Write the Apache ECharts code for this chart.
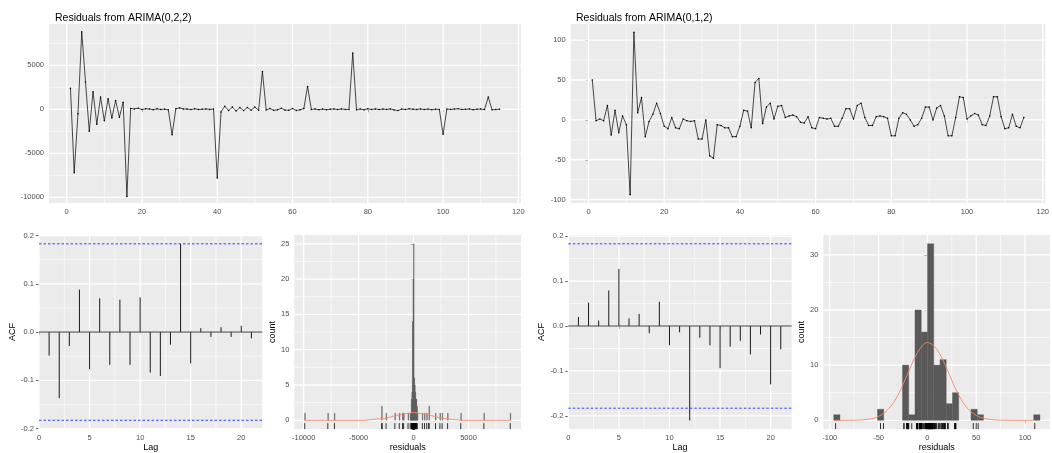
<!DOCTYPE html>
<html><head><meta charset="utf-8">
<script src="https://cdn.jsdelivr.net/npm/echarts@6/dist/echarts.min.js"></script>
<style>html,body{margin:0;padding:0;background:#fff}#c{width:1052px;height:453px}</style>
</head><body><div id="c"></div>
<script>
// ---------- data ----------
const titles = ['Residuals from ARIMA(0,2,2)', 'Residuals from ARIMA(0,1,2)'];

const residL = [
  2400, -7200, -500, 8800, 3100, -2500, 2000, -1700, 1400, -1300,
  1200, -1000, 1000, -900, 800, -9900, 100, 40, 120, -30,
  60, 30, -40, 50, -20, 10, -60, -2900, 60, 160,
  40, 20, -30, 50, -20, 10, 30, -10, 20, -7800,
  -300, 350, -150, 250, -200, 200, -150, 200, -100, 250,
  -100, 4300, -80, 90, -120, -60, 120, -90, -110, 100,
  -130, -60, 80, 2600, -20, 30, -50, 20, -40, 10,
  30, -30, 40, -10, -20, 6400, -50, 30, -60, 50,
  -20, 40, -30, 20, -10, 40, -70, -150, 30, -20,
  50, 10, -20, 40, -30, 20, -40, 10, -20, -2850,
  30, -10, 20, 60, -20, 0, 30, -40, 10, 20,
  -30, 1400, -60, -20, 10
];

const residR = [
  50, -1, 1, -1, 18, -19, 12, -16, 5, -6,
  -94, 110, 9, 28, -21, -2, 7, 21, 8, -8,
  -11, 3, -10, -11, 1, -1, -2, -1, -24, -24,
  0, -45, -48, -6, -7, -10, -10, -21, -21, -8,
  12, 11, -10, 47, 52, -5, 16, 21, 1, 17,
  18, 3, 5, 6, 4, -3, -4, 4, -10, -11,
  3, 2, 1, 2, -8, -8, 2, 14, 14, 1,
  18, 21, 3, -7, -7, 4, 5, 4, 2, -20,
  -20, 2, 9, 7, 0, -8, -6, 2, 16, 16,
  0, 15, 18, 5, -20, -20, 3, 29, 28, 1,
  5, 8, 6, -6, -7, 5, 29, 29, 4, -11,
  -10, 7, -8, -10, 3
];

const lags = [1,2,3,4,5,6,7,8,9,10,11,12,13,14,15,16,17,18,19,20,21];
const acfL = [-0.049,-0.137,-0.029,0.088,-0.077,0.070,-0.068,0.067,-0.068,0.072,
              -0.084,-0.091,-0.026,0.183,-0.065,0.008,-0.010,0.010,-0.010,0.013,-0.013];
const acfR = [0.020,0.052,0.012,0.079,0.127,0.017,0.027,-0.016,0.054,-0.043,
              -0.014,-0.210,-0.026,-0.043,-0.094,-0.046,-0.033,-0.063,-0.019,-0.130,-0.052];
const ciLevel = 0.1828;

const histLWidth = 50;
const histLStart = [-9900,-7800,-7200,-2900,-2500,-1700,-1300,-1000,-900,-500,
                    -300,-250,-200,-150,-100,-50,0,50,100,150,200,250,300,350,
                    800,1000,1200,1400,2000,2400,2600,3100,4300,6400,8800];
const histLCount = [1,1,1,2,1,1,1,1,1,1,
                    1,1,3,4,14,20,25,6,5,4,3,3,2,1,
                    1,1,1,2,1,1,1,1,1,1,1];

const histRWidth = 6.4;
const histRStart = [-95.9,-51.1,-25.5,-19.1,-12.7,-6.3,0.1,6.5,12.9,19.3,25.7,44.7,51.1,108.9];
const histRCount = [1,2,10,1,20,16,32,10,11,3,5,2,1,1];

const densLX = [-9900,-4500,-2500,-1300,0,1300,2500,4300,8800];
const densLY = [0,0,0.3,0.8,1.1,0.8,0.3,0,0];
const densRX = [-95,-90,-80,-70,-60,-50,-40,-30,-20,-10,0,10,20,30,40,50,60,70,80,90,100,110];
const densRY = [0,0,0.01,0.04,0.19,0.7,2.0,4.6,8.5,12.3,14.1,12.8,9.3,5.3,2.4,0.88,0.25,0.06,0.01,0,0,0];

const tsXTicks = [0,20,40,60,80,100,120], tsXMinor = [10,30,50,70,90,110];
const tsLYTicks = [-10000,-5000,0,5000], tsLYMinor = [-7500,-2500,2500,7500];
const tsRYTicks = [-100,-50,0,50,100], tsRYMinor = [-75,-25,25,75];
const acfXTicks = [0,5,10,15,20], acfXMinor = [2.5,7.5,12.5,17.5];
const acfYTicks = [-0.2,-0.1,0,0.1,0.2], acfYMinor = [-0.15,-0.05,0.05,0.15];
const hLXTicks = [-10000,-5000,0,5000], hLXMinor = [-7500,-2500,2500,7500];
const hLYTicks = [0,5,10,15,20,25], hLYMinor = [2.5,7.5,12.5,17.5,22.5];
const hRXTicks = [-100,-50,0,50,100], hRXMinor = [-75,-25,25,75];
const hRYTicks = [0,10,20,30], hRYMinor = [5,15,25];

// ---------- layout ----------
const FONT = 'Liberation Sans, Arial, sans-serif';
const grids = [
  {left: 49,    top: 24,  width: 472,   height: 179},   // 0 ts left
  {left: 570.7, top: 24,  width: 479.3, height: 179},   // 1 ts right
  {left: 39,    top: 235, width: 223.3, height: 195.5}, // 2 acf left
  {left: 294.3, top: 235, width: 226.7, height: 194.3}, // 3 hist left
  {left: 568.3, top: 235, width: 223.4, height: 195.5}, // 4 acf right
  {left: 823.3, top: 235, width: 226.7, height: 194.3}  // 5 hist right
];
const xr = [[-4.7,120.7],[-4.7,120.7],[0,22.08],[-10850,9780],[0,22.08],[-106.6,125.6]];
const yr = [[-10650,9693],[-104.2,120.2],[-0.2011,0.2011],[-1.25,26.25],[-0.2293,0.2024],[-1.6,33.6]];

const plain = v => String(v);
const oneDec = v => (Math.abs(v) < 1e-9 ? 0 : v).toFixed(1);

function axis(gi, range, ticks, fmt, name, gap) {
  return {
    type: 'value', gridIndex: gi, min: range[0], max: range[1],
    axisLine: {show: false},
    axisTick: {show: true, length: 3, customValues: ticks, lineStyle: {color: '#333', width: 0.8}},
    axisLabel: {customValues: ticks, formatter: fmt, fontSize: 7.5, color: '#4D4D4D', margin: 5, fontFamily: FONT},
    splitLine: {show: false},
    name: name || '', nameLocation: 'middle', nameGap: gap || 0,
    nameTextStyle: {fontSize: 9, color: '#000', fontFamily: FONT}
  };
}
const xAxes = [
  axis(0, xr[0], tsXTicks, plain),
  axis(1, xr[1], tsXTicks, plain),
  axis(2, xr[2], acfXTicks, plain, 'Lag', 11),
  axis(3, xr[3], hLXTicks, plain, 'residuals', 11),
  axis(4, xr[4], acfXTicks, plain, 'Lag', 11),
  axis(5, xr[5], hRXTicks, plain, 'residuals', 11)
];
const yAxes = [
  axis(0, yr[0], tsLYTicks, plain),
  axis(1, yr[1], tsRYTicks, plain),
  axis(2, yr[2], acfYTicks, oneDec, 'ACF', 20),
  axis(3, yr[3], hLYTicks, plain, 'count', 13),
  axis(4, yr[4], acfYTicks, oneDec, 'ACF', 20),
  axis(5, yr[5], hRYTicks, plain, 'count', 13)
];

// grid lines (white, ggplot style) as custom series
function gridLineSeries(gi, xMaj, xMin, yMaj, yMin) {
  const data = [];
  xMin.forEach(v => data.push([v, 0, 0]));
  yMin.forEach(v => data.push([v, 1, 0]));
  xMaj.forEach(v => data.push([v, 0, 1]));
  yMaj.forEach(v => data.push([v, 1, 1]));
  return {
    type: 'custom', xAxisIndex: gi, yAxisIndex: gi, z: 1, silent: true, clip: false,
    encode: {x: -1, y: -1},
    data: data,
    renderItem: function (params, api) {
      const cs = params.coordSys;
      const v = api.value(0), dim = api.value(1), major = api.value(2);
      const w = major ? 1.3 : 0.65;
      if (dim === 0) {
        const x = api.coord([v, yr[gi][0]])[0];
        return {type: 'line', shape: {x1: x, y1: cs.y, x2: x, y2: cs.y + cs.height},
                style: {stroke: '#FFFFFF', lineWidth: w}};
      } else {
        const y = api.coord([xr[gi][0], v])[1];
        return {type: 'line', shape: {x1: cs.x, y1: y, x2: cs.x + cs.width, y2: y},
                style: {stroke: '#FFFFFF', lineWidth: w}};
      }
    }
  };
}

function refLineSeries(gi, vals, color, width, dash) {
  return {
    type: 'custom', xAxisIndex: gi, yAxisIndex: gi, z: 4, silent: true, clip: false,
    encode: {x: -1, y: -1},
    data: vals.map(v => [v]),
    renderItem: function (params, api) {
      const cs = params.coordSys;
      const y = api.coord([xr[gi][0], api.value(0)])[1];
      return {type: 'line', shape: {x1: cs.x, y1: y, x2: cs.x + cs.width, y2: y},
              style: {stroke: color, lineWidth: width, lineDash: dash || null}};
    }
  };
}

function tsSeries(gi, vals) {
  return {
    type: 'line', xAxisIndex: gi, yAxisIndex: gi, z: 3,
    data: vals.map((v, i) => [i + 1, v]),
    showSymbol: true, symbol: 'circle', symbolSize: 1.5,
    itemStyle: {color: '#000'},
    lineStyle: {color: '#000', width: 0.7},
    animation: false, silent: true
  };
}

function acfSeries(gi, vals) {
  return {
    type: 'custom', xAxisIndex: gi, yAxisIndex: gi, z: 3, silent: true,
    encode: {x: 0, y: 1},
    data: lags.map((l, i) => [l, vals[i]]),
    renderItem: function (params, api) {
      const p0 = api.coord([api.value(0), 0]);
      const p1 = api.coord([api.value(0), api.value(1)]);
      return {type: 'line', shape: {x1: p0[0], y1: p0[1], x2: p1[0], y2: p1[1]},
              style: {stroke: '#1a1a1a', lineWidth: 1}};
    }
  };
}

function histSeries(gi, starts, counts, width) {
  return {
    type: 'custom', xAxisIndex: gi, yAxisIndex: gi, z: 3, silent: true,
    encode: {x: [0, 1], y: 2},
    data: starts.map((s, i) => [s, s + width, counts[i]]),
    renderItem: function (params, api) {
      const p0 = api.coord([api.value(0), api.value(2)]);
      const p1 = api.coord([api.value(1), 0]);
      return {type: 'rect', shape: {x: p0[0], y: p0[1], width: p1[0] - p0[0], height: p1[1] - p0[1]},
              style: {fill: '#595959', stroke: '#595959', lineWidth: 0.4}};
    }
  };
}

function rugSeries(gi, vals) {
  return {
    type: 'custom', xAxisIndex: gi, yAxisIndex: gi, z: 5, silent: true, clip: false,
    encode: {x: 0, y: -1},
    data: vals.map(v => [v, 0]),
    renderItem: function (params, api) {
      const p = api.coord([api.value(0), yr[gi][0]]);
      return {type: 'line', shape: {x1: p[0], y1: p[1], x2: p[0], y2: p[1] - 6},
              style: {stroke: '#000', lineWidth: 0.8}};
    }
  };
}

function densSeries(gi, xs, ys, smooth) {
  return {
    type: 'line', xAxisIndex: gi, yAxisIndex: gi, z: 6, silent: true,
    data: xs.map((x, i) => [x, ys[i]]),
    showSymbol: false, smooth: smooth,
    lineStyle: {color: '#EE8A68', width: 0.9},
    animation: false
  };
}

const series = [
  gridLineSeries(0, tsXTicks, tsXMinor, tsLYTicks, tsLYMinor),
  gridLineSeries(1, tsXTicks, tsXMinor, tsRYTicks, tsRYMinor),
  gridLineSeries(2, acfXTicks, acfXMinor, acfYTicks, acfYMinor),
  gridLineSeries(3, hLXTicks, hLXMinor, hLYTicks, hLYMinor),
  gridLineSeries(4, acfXTicks, acfXMinor, acfYTicks, acfYMinor),
  gridLineSeries(5, hRXTicks, hRXMinor, hRYTicks, hRYMinor),
  tsSeries(0, residL),
  tsSeries(1, residR),
  refLineSeries(2, [0], '#3a3a3a', 1),
  refLineSeries(4, [0], '#3a3a3a', 1),
  acfSeries(2, acfL),
  acfSeries(4, acfR),
  refLineSeries(2, [ciLevel, -ciLevel], '#3344FF', 1, [2.5, 2]),
  refLineSeries(4, [ciLevel, -ciLevel], '#3344FF', 1, [2.5, 2]),
  histSeries(3, histLStart, histLCount, histLWidth),
  histSeries(5, histRStart, histRCount, histRWidth),
  rugSeries(3, residL),
  rugSeries(5, residR),
  densSeries(3, densLX, densLY, false),
  densSeries(5, densRX, densRY, 0.35)
];

const chart = echarts.init(document.getElementById('c'), null, {renderer: 'canvas'});
chart.setOption({
  backgroundColor: '#FFFFFF',
  animation: false,
  title: [
    {text: titles[0], left: 50, top: 8, textStyle: {fontSize: 10.5, fontWeight: 'normal', color: '#000', fontFamily: FONT}},
    {text: titles[1], left: 571, top: 8, textStyle: {fontSize: 10.5, fontWeight: 'normal', color: '#000', fontFamily: FONT}}
  ],
  grid: grids.map(g => Object.assign({show: true, backgroundColor: '#EBEBEB', borderWidth: 0, containLabel: false}, g)),
  xAxis: xAxes,
  yAxis: yAxes,
  series: series
});
</script>
</body></html>
